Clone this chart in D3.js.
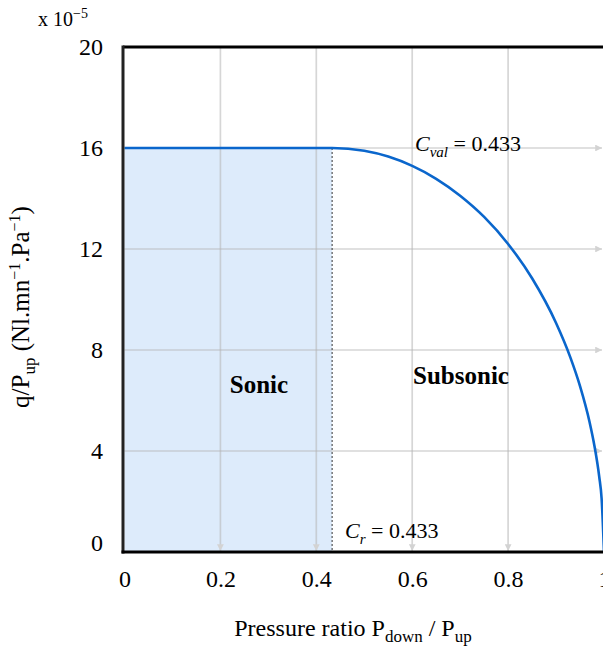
<!DOCTYPE html>
<html><head><meta charset="utf-8">
<script src="https://cdn.jsdelivr.net/npm/d3@7"></script>
<style>body{margin:0;background:#fff;}svg{display:block;font-family:"Liberation Serif","Times New Roman",serif;}</style>
</head><body>
<svg id="c" width="603" height="649"></svg>
<script>
// Data
const xTicks = [0, 0.2, 0.4, 0.6, 0.8, 1];
const yTicks = [0, 4, 8, 12, 16, 20];
const criticalRatio = 0.433;
const sonicFlow = 16;
// flow curve (ratio, q/Pup x1e-5)
const curveRatio = [0, 0.2, 0.433, 0.5, 0.55, 0.6, 0.65, 0.7, 0.75, 0.8, 0.85, 0.9, 0.93, 0.95, 0.97, 0.98, 0.99, 0.995, 1.0];
const curveFlow  = [16, 16, 16, 15.89, 15.66, 15.29, 14.78, 14.11, 13.27, 12.20, 10.84, 9.07, 7.70, 6.57, 5.14, 4.21, 2.99, 2.12, 0];

const svg = d3.select("#c");
const x = d3.scaleLinear().domain([0, 1]).range([124.5, 604]);
const y = d3.scaleLinear().domain([0, 20]).range([552, 47]);

const defs = svg.append("defs");
defs.append("marker").attr("id","arr").attr("viewBox","0 0 10 10").attr("refX",10).attr("refY",5)
  .attr("markerWidth",4).attr("markerHeight",4).attr("orient","auto-start-reverse")
  .append("path").attr("d","M0,0 L10,5 L0,10 z").attr("fill","#d3d3d3");

// sonic fill
svg.append("rect").attr("x", x(0)).attr("y", y(sonicFlow))
  .attr("width", x(criticalRatio) - x(0)).attr("height", y(0) - y(sonicFlow))
  .attr("fill", "#ddebfb");

// gridlines
const g = svg.append("g").attr("stroke", "#b5b5b5").attr("stroke-opacity", 0.55).attr("stroke-width", 1.7);
[0.2, 0.4, 0.6, 0.8].forEach(v => {
  g.append("line").attr("x1", x(v)).attr("x2", x(v)).attr("y1", y(20)).attr("y2", y(0) - 1)
   .attr("marker-end", "url(#arr)");
});
[4, 8, 12, 16].forEach(v => {
  g.append("line").attr("x1", x(0)).attr("x2", 602).attr("y1", y(v)).attr("y2", y(v))
   .attr("marker-end", "url(#arr)");
});

// dotted critical line
svg.append("line").attr("x1", x(criticalRatio)).attr("x2", x(criticalRatio))
  .attr("y1", y(sonicFlow)).attr("y2", y(0))
  .attr("stroke", "#333").attr("stroke-width", 1).attr("stroke-dasharray", "2,2");

// curve
const pts = curveRatio.map((r, i) => [r, curveFlow[i]]);
svg.append("path").datum(pts)
  .attr("d", d3.line().x(d => x(d[0])).y(d => y(d[1])).curve(d3.curveMonotoneX))
  .attr("fill", "none").attr("stroke", "#0a66cc").attr("stroke-width", 2.6);

// frame
svg.append("line").attr("x1", 123).attr("x2", 603).attr("y1", 47).attr("y2", 47).attr("stroke", "#000").attr("stroke-width", 3);
svg.append("line").attr("x1", 123).attr("x2", 123).attr("y1", 45.5).attr("y2", 553.5).attr("stroke", "#222").attr("stroke-width", 3);
svg.append("line").attr("x1", 121.5).attr("x2", 603).attr("y1", 552).attr("y2", 552).attr("stroke", "#000").attr("stroke-width", 3);

// axes (tick labels only)
const xa = svg.append("g").attr("transform", `translate(0,552)`)
  .call(d3.axisBottom(x).tickValues(xTicks).tickSize(0).tickPadding(18).tickFormat(d3.format("")));
xa.select(".domain").remove();
xa.selectAll("text").attr("font-size", 24).attr("font-family", "Liberation Serif").attr("fill", "#000");

const ya = svg.append("g").attr("transform", `translate(123,0)`)
  .call(d3.axisLeft(y).tickValues(yTicks).tickSize(0).tickPadding(20));
ya.select(".domain").remove();
ya.selectAll("text").attr("font-size", 24).attr("font-family", "Liberation Serif").attr("fill", "#000");
ya.selectAll(".tick").filter(d => d === 0).select("text").attr("dy", "-0.05em");

// exponent
const ex = svg.append("text").attr("x", 38).attr("y", 26).attr("font-size", 20);
ex.append("tspan").text("x 10");
ex.append("tspan").attr("dy", -8).attr("font-size", 14).text("−5");

// y title
const yt = svg.append("text").attr("transform", "translate(29,307) rotate(-90)").attr("text-anchor", "middle").attr("font-size", 25);
yt.append("tspan").text("q/P");
yt.append("tspan").attr("dy", 6).attr("font-size", 17).text("up");
yt.append("tspan").attr("dy", -6).text(" (Nl.mn");
yt.append("tspan").attr("dy", -9).attr("font-size", 16).text("−1");
yt.append("tspan").attr("dy", 9).text(".Pa");
yt.append("tspan").attr("dy", -9).attr("font-size", 16).text("−1");
yt.append("tspan").attr("dy", 9).text(")");

// x title
const xt = svg.append("text").attr("x", 353).attr("y", 636).attr("text-anchor", "middle").attr("font-size", 24);
xt.append("tspan").text("Pressure ratio P");
xt.append("tspan").attr("dy", 6).attr("font-size", 17).text("down");
xt.append("tspan").attr("dy", -6).text(" / P");
xt.append("tspan").attr("dy", 6).attr("font-size", 17).text("up");

// region labels
svg.append("text").attr("x", 259).attr("y", 393).attr("text-anchor", "middle").attr("font-size", 25).attr("font-weight", "bold").text("Sonic");
svg.append("text").attr("x", 461).attr("y", 384).attr("text-anchor", "middle").attr("font-size", 25).attr("font-weight", "bold").text("Subsonic");

// annotations
const cv = svg.append("text").attr("x", 415).attr("y", 151).attr("font-size", 22);
cv.append("tspan").attr("font-style", "italic").text("C");
cv.append("tspan").attr("font-style", "italic").attr("dy", 6).attr("font-size", 15).text("val");
cv.append("tspan").attr("dy", -6).text(" = 0.433");

const cr = svg.append("text").attr("x", 345).attr("y", 538).attr("font-size", 22);
cr.append("tspan").attr("font-style", "italic").text("C");
cr.append("tspan").attr("font-style", "italic").attr("dy", 6).attr("font-size", 15).text("r");
cr.append("tspan").attr("dy", -6).text(" = 0.433");
</script>
</body></html>
